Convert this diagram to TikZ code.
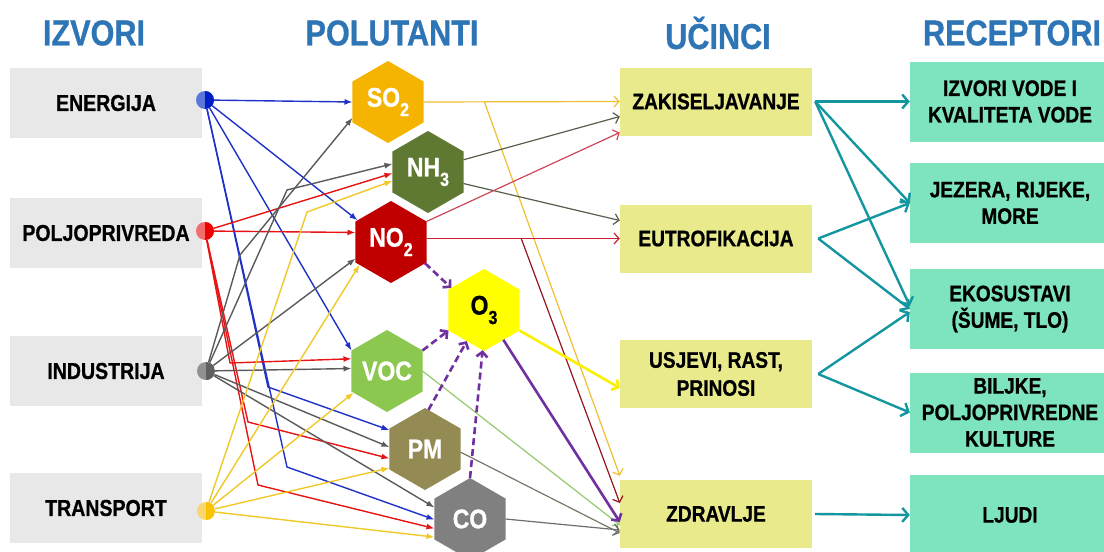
\documentclass[tikz,border=0pt]{standalone}
\usepackage{fontspec}
\setmainfont{Liberation Sans}[FakeStretch=0.85, BoldFeatures={FakeBold=0.8}]
\usetikzlibrary{arrows.meta,shapes.geometric,calc}
\definecolor{hdr}{RGB}{46,117,182}
\definecolor{srcbox}{RGB}{232,232,232}
\definecolor{effbox}{RGB}{232,234,140}
\definecolor{recbox}{RGB}{125,228,190}
\definecolor{tealA}{RGB}{20,150,160}
\definecolor{blueL}{RGB}{30,50,200}
\definecolor{blueD}{RGB}{0,30,200}
\definecolor{blueP}{RGB}{90,120,220}
\definecolor{redL}{RGB}{230,20,20}
\definecolor{redD}{RGB}{240,0,0}
\definecolor{redP}{RGB}{240,110,110}
\definecolor{grayL}{RGB}{90,90,90}
\definecolor{grayD}{RGB}{95,95,95}
\definecolor{grayP}{RGB}{145,145,145}
\definecolor{yelL}{RGB}{240,200,40}
\definecolor{yelD}{RGB}{250,195,0}
\definecolor{yelP}{RGB}{250,215,110}
\definecolor{cso2}{RGB}{245,180,0}
\definecolor{cnh3}{RGB}{95,120,50}
\definecolor{cno2}{RGB}{192,0,0}
\definecolor{co3}{RGB}{255,255,0}
\definecolor{cvoc}{RGB}{140,200,80}
\definecolor{cpm}{RGB}{148,138,84}
\definecolor{cco}{RGB}{128,128,128}
\definecolor{lso2}{RGB}{240,190,50}
\definecolor{lnh3}{RGB}{85,95,75}
\definecolor{lno2}{RGB}{200,30,50}
\definecolor{lno2b}{RGB}{205,70,90}
\definecolor{lno2c}{RGB}{150,20,30}
\definecolor{lvoc}{RGB}{150,200,110}
\definecolor{lpm}{RGB}{120,120,100}
\definecolor{lco}{RGB}{110,110,110}
\definecolor{purp}{RGB}{112,48,160}
\definecolor{lo3}{RGB}{250,240,0}
\newcommand\mysub[1]{\raisebox{-0.35em}{\fontsize{19}{19}\selectfont #1}}
\begin{document}
\begin{tikzpicture}[x=1pt,y=-1pt,
  hdrtxt/.style={text=hdr, font=\fontsize{36}{36}\selectfont\bfseries},
  src/.style={fill=srcbox, minimum width=192pt, minimum height=70pt, inner sep=0pt, font=\fontsize{23}{26}\selectfont\bfseries},
  eff/.style={fill=effbox, minimum width=192pt, minimum height=68pt, inner sep=0pt, align=center, font=\fontsize{22.5}{28}\selectfont\bfseries},
  rec/.style={fill=recbox, minimum width=200pt, minimum height=80pt, inner sep=0pt, align=center, font=\fontsize{22.5}{26.5}\selectfont\bfseries},
  hex/.style={regular polygon, regular polygon sides=6, shape border rotate=30, minimum size=82pt, inner sep=0pt, outer sep=0pt, text=white, font=\fontsize{27}{27}\selectfont\bfseries},
  dotst/.style 2 args={circle, minimum size=18pt, inner sep=0pt, fill=#1, path picture={\fill[#2] (path picture bounding box.north) rectangle (path picture bounding box.south east);}},
  sarr/.style={line width=1.4pt, -{Latex[length=8pt,width=6pt]}},
  earr/.style={line width=1.2pt, -{Straight Barb[length=5pt,width=11pt]}},
  tarr/.style={line width=2.4pt, draw=tealA, -{Straight Barb[length=6pt,width=14pt]}},
  parr/.style={line width=2.6pt, draw=purp, dash pattern=on 7pt off 4pt, -{Straight Barb[length=5pt,width=11pt]}}
]
\useasboundingbox (0,0) rectangle (1104,552);
\clip (0,0) rectangle (1104,552);
% headers
\node[hdrtxt] (h1) at (94,33) {IZVORI};
\node[hdrtxt] (h2) at (392,33) {POLUTANTI};
\node[hdrtxt] (h3) at (718,33) {UČINCI};
\node[hdrtxt] (h4) at (1012,33) {RECEPTORI};
% sources
\node[src] (en) at (106,103) {ENERGIJA};
\node[src] (po) at (106,233) {POLJOPRIVREDA};
\node[src] (in) at (106,371) {INDUSTRIJA};
\node[src] (tr) at (106,508) {TRANSPORT};
\node[dotst={blueP}{blueD}] (dE) at (205,100) {};
\node[dotst={redP}{redD}] (dP) at (205,231) {};
\node[dotst={grayP}{grayD}] (dI) at (206,371) {};
\node[dotst={yelP}{yelD}] (dT) at (206,511) {};
% pollutants
\node[hex, fill=cso2] (so2) at (388,102) {SO\mysub{2}};
\node[hex, fill=cnh3] (nh3) at (428,172) {NH\mysub{3}};
\node[hex, fill=cno2] (no2) at (391,242) {NO\mysub{2}};
\node[hex, fill=co3, text=black] (o3) at (484,310) {O\mysub{3}};
\node[hex, fill=cvoc] (voc) at (387,371) {VOC};
\node[hex, fill=cpm] (pm) at (425,449) {PM};
\node[hex, fill=cco] (co) at (470,519) {CO};
% effects
\node[eff] (zak) at (716,101.5) {ZAKISELJAVANJE};
\node[eff] (eut) at (716,238.5) {EUTROFIKACIJA};
\node[eff] (usj) at (716,374) {USJEVI, RAST,\\PRINOSI};
\node[eff] (zdr) at (716,514) {ZDRAVLJE};
% receptors
\node[rec] (r1) at (1010,101.5) {IZVORI VODE I\\KVALITETA VODE};
\node[rec] (r2) at (1010,203) {JEZERA, RIJEKE,\\MORE};
\node[rec] (r3) at (1010,309) {EKOSUSTAVI\\(ŠUME, TLO)};
\node[rec] (r4) at (1010,412.5) {BILJKE,\\POLJOPRIVREDNE\\KULTURE};
\node[rec] (r5) at (1010,515) {LJUDI};
% energy
\begin{scope}[draw=blueL, color=blueL]
\draw[sarr] (dE) -- (so2.180);
\draw[sarr] (dE) -- (no2.147);
\draw[sarr] (dE) -- (voc.150);
\draw[sarr] (dE) -- (268,387) -- (pm.152);
\draw[sarr] (dE) -- (287,467) -- (co.181);
\end{scope}
% agriculture
\begin{scope}[draw=redL, color=redL]
\draw[sarr] (dP) -- (nh3.182);
\draw[sarr] (dP) -- (no2.165);
\draw[sarr] (dP) -- (230,363) -- (voc.161);
\draw[sarr] (dP) -- (248,422) -- (pm.195);
\draw[sarr] (dP) -- (258,485) -- (co.195);
\end{scope}
% industry
\begin{scope}[draw=grayL, color=grayL]
\draw[sarr] (dI) -- (240,255) -- (so2.204);
\draw[sarr] (dI) -- (287,190) -- (nh3.167);
\draw[sarr] (dI) -- (no2.205);
\draw[sarr] (dI) -- (voc.176);
\draw[sarr] (dI) -- (pm.177);
\draw[sarr] (dI) -- (co.162);
\end{scope}
% transport
\begin{scope}[draw=yelL, color=yelL]
\draw[sarr] (dT) -- (307,212) -- (nh3.194);
\draw[sarr] (dT) -- (no2.216);
\draw[sarr] (dT) -- (voc.213);
\draw[sarr] (dT) -- (pm.208);
\draw[sarr] (dT) -- (co.207);
\end{scope}
% pollutants -> effects
\draw[earr, draw=lso2] (so2.0) -- (zak.west);
\draw[earr, draw=lso2] ($(so2.0)!0.31!(zak.west)$) -- ([yshift=4pt]zdr.north west);
\draw[earr, draw=lnh3] (nh3.19) -- ([yshift=-15pt]zak.west);
\draw[earr, draw=lnh3] (nh3.-18) -- ([yshift=18pt]eut.west);
\draw[earr, draw=lno2b] (no2.30) -- ([yshift=-31pt]zak.west);
\draw[earr, draw=lno2] (no2.east |- eut.west) -- (eut.west);
\draw[earr, draw=lno2c] ($(no2.east |- eut.west)!0.49!(eut.west)$) -- ([yshift=11pt]zdr.west);
\draw[earr, draw=lvoc] (voc.east) -- ([yshift=-11pt]zdr.west);
\draw[earr, draw=lpm] (pm.-5) -- ([yshift=-19pt]zdr.west);
\draw[earr, draw=lco] (co.east) -- ([yshift=-16pt]zdr.west);
\draw[line width=2.6pt, draw=lo3, -{Straight Barb[length=5pt,width=12pt]}] (o3.-30) -- ([yshift=-14pt]usj.west);
\draw[line width=2.6pt, draw=purp, -{Straight Barb[length=5pt,width=12pt]}] (o3.-57) -- ([yshift=-8pt]zdr.west);
% ozone formation
\draw[parr] (no2.-32) -- (o3.146);
\draw[parr] (voc.30) -- (o3.210);
\draw[parr] (pm.85) -- (o3.241);
\draw[parr] (co.north) -- (o3.268);
% effects -> receptors
\draw[tarr] ([xshift=3pt]zak.east) -- (r1.west);
\draw[tarr] ([xshift=3pt]zak.east) -- (r2.west);
\draw[tarr] ([xshift=3pt]zak.east) -- ([yshift=3pt]r3.west);
\draw[tarr] ([xshift=6pt]eut.east) -- (r2.west);
\draw[tarr] ([xshift=6pt]eut.east) -- (r3.west);
\draw[tarr] ([xshift=6pt]usj.east) -- ([yshift=-3pt]r3.west);
\draw[tarr] ([xshift=6pt]usj.east) -- (r4.west);
\draw[tarr] ([xshift=3pt]zdr.east) -- (r5.west);
\end{tikzpicture}
\end{document}
